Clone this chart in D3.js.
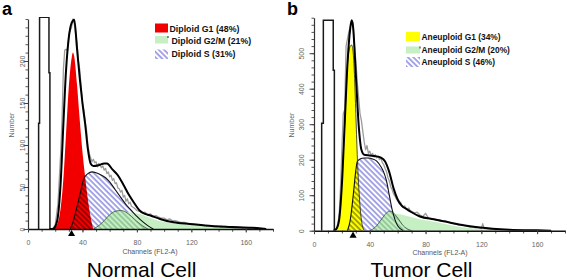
<!DOCTYPE html>
<html>
<head>
<meta charset="utf-8">
<script src="https://cdn.jsdelivr.net/npm/d3@7"></script>
<style>
  body { margin: 0; background: #fff; }
  svg { display: block; font-family: "Liberation Sans", Arial, sans-serif; }
</style>
</head>
<body>
<div id="chart"></div>
<script>
"use strict";

// ---- panel a : normal cell (channel, count) ----
const boxChA = [7.8, 7.8, 8.5, 8.5, 15.4, 15.4, 16.1, 16.1];
const boxA   = [0, 126, 126, 252, 252, 186, 186, 0];
const g1ChA  = [18,20,22,24,26,28,30,32,33,34,36,38,40,42,44,46,48];
const g1A    = [0,2,8,25,60,115,170,203,210,205,172,130,92,62,35,14,0];
const sChA   = [31,33,35,37,39,41,44,47,50,53,57,60,64,68,72,76,80,84,88,92];
const sA     = [0,8,20,33,47,60,66,68,67,65,61,56,47,38,29,22,15,9,4,0];
const g2ChA  = [48,52,56,60,64,68,72,76,80,84,88];
const g2A    = [0,4,10,17,21,22,20,15,9,4,0];
const tailChA = [56,62,68,72,82,90,95,107,119,135,150,160,170];
const tailA   = [0,10,18,20,18,13,10,7,5,3,2,1,0];
const fitChA = [16,18,20,22,24,26,28,30,32,34,36,38,40,42,44,46,48,52,56,58,62,66,70,74,78,82,86,90,97,107,119,135,150,165,175];
const fitA   = [0,0,3,15,55,125,190,228,245,249,215,180,150,125,95,78,75,76,78,78,71,64,53,41,31,22,18,16,12,8,6,3.5,2.5,1.5,0];
const dataChA = [18,20,22,24,25,26,27,28,29,30,31,32,33,34,35,36,37,38,39,40,41,42,43,44,45,46,47,48,49,50,
  51,52,53,54,55,56,57,58,59,60,61,62,63,64,65,66,67,68,69,70,71,72,73,74,75,76,
  78,80,82,84,86,88,90,92,94,96,98,100,102,104,106,108,110,112,
  115,118,121,124,127,130,133,136,139,142,145,148,151,155,160,165,170];
const dataA = [0,5,30,90,130,190,213,214,212,232,236,240,250,244,232,222,200,190,170,150,142,128,118,100,90,85,80,83,79,80,
  74,78,76,73,75,70,72,66,68,62,64,58,60,54,55,49,48,44,46,38,40,33,36,30,32,27,
  25,22,21,19,20,17,18,15,16,14,13,13,11,12,10,10,9,8,
  8,6,6,5,5,4,4,3,3,2,3,2,1,1,1,0,0];
const markA = 32;
const legendA = ["Diploid G1 (48%)", "Diploid G2/M (21%)", "Diploid S (31%)"];

// ---- panel b : tumor cell ----
const boxChB = [5.5, 5.5, 6.7, 6.7, 13.8, 13.8, 14.6, 14.6];
const boxB   = [0, 303, 303, 593, 593, 452, 452, 0];
const g1ChB  = [14,16,18,20,22,24,25,26,27,28,29,30,31,32,33,34,35,36];
const g1B    = [0,5,40,150,300,470,505,520,523,505,440,330,215,130,70,30,10,0];
const sChB   = [24,26,28,30,31,33,36,39,42,45,48,50,52,54,56,58,60,62,64];
const sB     = [0,30,95,170,194,202,205,205,202,196,180,165,140,100,60,32,14,5,0];
const g2ChB  = [40,44,48,52,54,56,60,64,68,70];
const g2B    = [0,10,30,50,55,53,36,14,3,0];
const tailChB = [48,54,58,62,66,76,88,100,110,120,130,140,150];
const tailB   = [0,30,48,46,42,32,24,14,8,4,2,1,0];
const fitChB = [14,16,18,20,22,24,26,27,28,30,32,34,36,40,44,48,51,54,57,60,63,66,70,76,86,95,105,119,140,160,170];
const fitB   = [0,5,30,130,300,470,570,593,575,440,300,228,214,212,210,206,195,165,120,88,70,62,52,40,32,25,17,9,3,1,0];
const dataChB = [16,18,19,20,21,22,23,24,25,26,27,28,29,30,31,32,33,34,35,36,37,38,39,40,41,42,43,44,45,46,
  47,48,49,50,51,52,53,54,55,56,57,58,59,60,61,62,63,64,65,66,67,68,69,70,72,74,76,78,80,82,
  84,86,88,90,92,94,96,98,100,102,104,106,108,110,112,114,116,118,120,121,
  122,124,127,130,133,136,139,142,145,148,151,155,160,165,170];
const dataB = [0,40,120,230,330,340,520,540,560,575,592,585,520,480,420,375,330,310,280,250,228,240,218,224,212,218,208,214,205,210,
  200,205,192,186,175,166,150,140,124,116,104,98,90,84,78,80,72,68,70,62,60,64,56,55,50,52,44,40,49,36,
  34,32,30,31,27,28,24,22,20,18,16,18,14,12,10,10,8,9,6,20,
  6,5,4,4,3,3,2,2,1,2,1,1,0,0,0];
const markB = 28;
const legendB = ["Aneuploid G1 (34%)", "Aneuploid G2/M (20%)", "Aneuploid S (46%)"];

const xTicks = [0, 40, 80, 120, 160];
const LIGHTGREEN = "#c6f0c4";

const svg = d3.select("#chart").append("svg")
    .attr("width", 567)
    .attr("height", 280);

const defs = svg.append("defs");

// hatch patterns
function hatch(id, color, bg) {
    const p = defs.append("pattern")
        .attr("id", id)
        .attr("patternUnits", "userSpaceOnUse")
        .attr("width", 3.8)
        .attr("height", 3.8)
        .attr("patternTransform", "rotate(-45)");
    if (bg) p.append("rect").attr("width", 3.8).attr("height", 3.8).attr("fill", bg);
    p.append("line")
        .attr("x1", 1).attr("y1", 0).attr("x2", 1).attr("y2", 3.8)
        .attr("stroke", color).attr("stroke-width", 1.05);
}
hatch("hatchS", "#5858d2", null);
hatch("hatchG2", "#6aa878", LIGHTGREEN);

const zip = (xs, ys) => xs.map((c, i) => [c, ys[i]]);

const panels = [
    { key: "a", left: 28, right: 273, top: 19, bottom: 229, ymax: 250, yMajor: [0,50,100,150,200], yMinor: 10,
      labOff: -3, numberX: 14, g1Color: "#f20000",
      box: zip(boxChA, boxA), g1: zip(g1ChA, g1A), s: zip(sChA, sA), g2: zip(g2ChA, g2A),
      tail: zip(tailChA, tailA), fit: zip(fitChA, fitA), data: zip(dataChA, dataA), mark: markA,
      title: "Normal Cell", titleX: 141.5, chX: 150, letterX: 2, letterY: 15,
      legend: legendA, legX: 155, legW: 13, legY: [23.5, 36, 49.5], legH: [9, 7.5, 9.5],
      legTextX: [169.5, 171.5, 171.5], legBase: [32, 43.5, 57], legSize: 8.8 },
    { key: "b", left: 314, right: 565, top: 17.7, bottom: 230.7, ymax: 600, yMajor: [0,100,200,300,400,500], yMinor: 20,
      labOff: -10, numberX: 294, g1Color: "#ffff00",
      box: zip(boxChB, boxB), g1: zip(g1ChB, g1B), s: zip(sChB, sB), g2: zip(g2ChB, g2B),
      tail: zip(tailChB, tailB), fit: zip(fitChB, fitB), data: zip(dataChB, dataB), mark: markB,
      title: "Tumor Cell", titleX: 421.5, chX: 440, letterX: 287, letterY: 15,
      legend: legendB, legX: 406, legW: 14, legY: [32, 46.5, 57], legH: [9, 7, 10],
      legTextX: [421.5, 421.5, 421.5], legBase: [40, 52.5, 65], legSize: 8.4 }
];

panels.forEach(drawPanel);

function drawPanel(p) {
    const x = d3.scaleLinear().domain([0, 180]).range([p.left, p.right]);
    const y = d3.scaleLinear().domain([0, p.ymax]).range([p.bottom, p.top]);

    const clipId = "clip-" + p.key;
    defs.append("clipPath").attr("id", clipId)
        .append("rect")
        .attr("x", p.left).attr("y", p.top - 2)
        .attr("width", p.right - p.left).attr("height", p.bottom - p.top + 2);

    const g = svg.append("g");
    const plot = g.append("g").attr("clip-path", "url(#" + clipId + ")");

    const area = d3.area().x(d => x(d[0])).y0(y(0)).y1(d => y(d[1])).curve(d3.curveMonotoneX);
    const smooth = d3.line().x(d => x(d[0])).y(d => y(d[1])).curve(d3.curveMonotoneX);
    const straight = d3.line().x(d => x(d[0])).y(d => y(d[1]));

    // G1 peak
    plot.append("path").datum(p.g1).attr("d", area).attr("fill", p.g1Color);
    // S phase hatch (drawn over G1)
    plot.append("path").datum(p.s).attr("d", area)
        .attr("fill", "url(#hatchS)").style("mix-blend-mode", "multiply");
    // aggregate tail and G2/M
    plot.append("path").datum(p.tail).attr("d", area).attr("fill", LIGHTGREEN);
    plot.append("path").datum(p.g2).attr("d", area).attr("fill", "url(#hatchG2)");

    plot.append("path").datum(p.g2).attr("d", smooth)
        .attr("fill", "none").attr("stroke", "#2f4f36").attr("stroke-width", 0.8);
    plot.append("path").datum(p.s).attr("d", smooth)
        .attr("fill", "none").attr("stroke", "#111").attr("stroke-width", 1.1);
    if (p.key === "b") {
        plot.append("path").datum(p.g1).attr("d", smooth)
            .attr("fill", "none").attr("stroke", "#222").attr("stroke-width", 0.8);
    }

    // debris region
    plot.append("path").datum(p.box).attr("d", straight)
        .attr("fill", "none").attr("stroke", "#1a1a1a").attr("stroke-width", 1.5);

    // raw histogram
    plot.append("path").datum(p.data).attr("d", straight)
        .attr("fill", "none").attr("stroke", "#9c9c9c").attr("stroke-width", 1.3)
        .attr("stroke-linejoin", "round");

    // model fit
    plot.append("path").datum(p.fit).attr("d", smooth)
        .attr("fill", "none").attr("stroke", "#000").attr("stroke-width", 2);

    // axes
    const yMinor = g.append("g").attr("transform", "translate(" + p.left + ",0)")
        .call(d3.axisLeft(y).tickValues(d3.range(0, p.ymax + 1, p.yMinor)).tickSize(2.5).tickFormat(""));
    yMinor.select(".domain").remove();
    yMinor.selectAll("line").attr("stroke", "#555");

    const yAx = g.append("g").attr("transform", "translate(" + p.left + ",0)")
        .call(d3.axisLeft(y).tickValues(p.yMajor).tickSize(4.5).tickSizeOuter(0));
    yAx.select(".domain").attr("stroke", "#333").attr("stroke-width", 1.2);
    yAx.selectAll("line").attr("stroke", "#444");
    yAx.selectAll("text")
        .attr("x", 0).attr("y", p.labOff).attr("dy", 0)
        .attr("text-anchor", "middle")
        .attr("transform", "rotate(-90)")
        .attr("font-size", 7).attr("font-family", null).attr("fill", "#666");

    const xMinor = g.append("g").attr("transform", "translate(0," + p.bottom + ")")
        .call(d3.axisBottom(x).tickValues(d3.range(0, 181, 10)).tickSize(2.8).tickFormat(""));
    xMinor.select(".domain").remove();
    xMinor.selectAll("line").attr("stroke", "#555");

    const xAx = g.append("g").attr("transform", "translate(0," + p.bottom + ")")
        .call(d3.axisBottom(x).tickValues(xTicks).tickSize(3.5).tickSizeOuter(0).tickPadding(7.5));
    xAx.select(".domain").attr("stroke", "#111").attr("stroke-width", 1.4);
    xAx.selectAll("line").attr("stroke", "#444");
    xAx.selectAll("text").attr("font-size", 7).attr("font-family", null).attr("fill", "#666");

    // G1 marker
    g.append("path")
        .attr("d", d3.symbol(d3.symbolTriangle, 22)())
        .attr("transform", "translate(" + x(p.mark) + "," + (p.bottom + 5) + ")")
        .attr("fill", "#000");

    // axis titles
    g.append("text")
        .attr("transform", "translate(" + p.numberX + "," + 125 + ") rotate(-90)")
        .attr("text-anchor", "middle")
        .attr("font-size", 7).attr("fill", "#666")
        .text("Number");
    g.append("text")
        .attr("x", p.chX).attr("y", p.bottom + 24.5)
        .attr("text-anchor", "middle")
        .attr("font-size", 7).attr("fill", "#555")
        .text("Channels (FL2-A)");

    // legend
    const fills = [p.g1Color, LIGHTGREEN, "url(#hatchS)"];
    p.legend.forEach((label, i) => {
        g.append("rect")
            .attr("x", p.legX).attr("y", p.legY[i])
            .attr("width", p.legW).attr("height", p.legH[i])
            .attr("fill", fills[i]);
        g.append("text")
            .attr("x", p.legTextX[i]).attr("y", p.legBase[i])
            .attr("font-size", p.legSize).attr("font-weight", "bold").attr("fill", "#111")
            .text(label);
    });
    g.append("rect")
        .attr("x", p.legX + p.legW - 0.5).attr("y", p.legY[1])
        .attr("width", 1).attr("height", 2).attr("fill", "#222");

    // panel letter and caption
    g.append("text")
        .attr("x", p.letterX).attr("y", p.letterY)
        .attr("font-size", 18).attr("font-weight", "bold").attr("fill", "#000")
        .text(p.key);
    g.append("text")
        .attr("x", p.titleX).attr("y", 276.5)
        .attr("text-anchor", "middle")
        .attr("font-size", 21).attr("fill", "#000")
        .text(p.title);
}
</script>
</body>
</html>
